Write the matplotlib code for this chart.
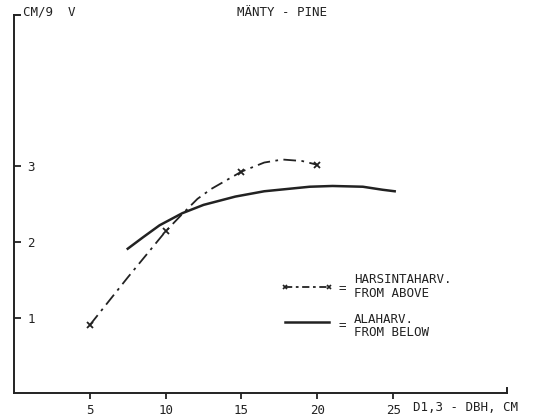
import matplotlib
matplotlib.use("Agg")
import matplotlib.pyplot as plt

# harsintaharv. / from above (dash-dot curve) and its measured points
aboveX = [5, 7.5, 10, 11.1, 12.1, 13, 15, 16.5, 17.7, 19, 20]
aboveY = [0.9, 1.53, 2.14, 2.37, 2.57, 2.7, 2.93, 3.05, 3.09, 3.07, 3.02]
aboveMarkX = [5, 10, 15, 20]
aboveMarkY = [0.9, 2.14, 2.93, 3.02]

# alaharv. / from below (solid curve)
belowX = [7.5, 8.5, 9.6, 11.1, 12.5, 14.6, 16.5, 19.5, 21, 23, 24.3, 25.1]
belowY = [1.91, 2.06, 2.22, 2.38, 2.49, 2.6, 2.67, 2.73, 2.74, 2.73, 2.69, 2.67]

xTicks = [5, 10, 15, 20, 25]
yTicks = [1, 2, 3]

ink = "#222222"
fs = 9
plt.rcParams["font.family"] = "DejaVu Sans Mono"

fig = plt.figure(figsize=(5.37, 4.2), dpi=100)
ax = fig.add_axes([0.026, 0.064, 0.918, 0.9])
ax.set_xlim(0, 32.5)
ax.set_ylim(0, 5)

ax.plot(aboveX, aboveY, color=ink, lw=1.3, linestyle=(0, (7, 3, 1.5, 3)))
ax.plot(aboveMarkX, aboveMarkY, linestyle="none", marker="x", ms=4, mew=1.3, color=ink)
ax.plot(belowX, belowY, color=ink, lw=1.8)

for s in ["top", "right"]:
    ax.spines[s].set_visible(False)
for s in ["left", "bottom"]:
    ax.spines[s].set_color(ink)
    ax.spines[s].set_linewidth(1.4)

ax.set_xticks(xTicks)
ax.set_yticks(yTicks)
ax.tick_params(axis="x", direction="out", length=4, width=1.3, color=ink,
               labelsize=fs, labelcolor=ink, pad=4)
ax.tick_params(axis="y", direction="in", length=5, width=1.3, color=ink,
               labelsize=fs, labelcolor=ink, pad=-9.5)
for lab in ax.get_yticklabels():
    lab.set_horizontalalignment("left")

# small end marks on the axes
ax.plot([0, 0.4], [5, 5], color=ink, lw=1.4, clip_on=False)
ax.plot([32.5, 32.5], [0, 0.07], color=ink, lw=1.4, clip_on=False)

ax.text(0.6, 5.04, "CM/9  V", fontsize=fs, color=ink, va="center", ha="left")
ax.text(17.7, 5.04, "MÄNTY - PINE", fontsize=fs, color=ink, va="center", ha="center")
ax.text(26.3, -0.185, "D1,3 - DBH, CM", fontsize=fs, color=ink, va="center", ha="left")

# hand-drawn legend
ax.plot([17.9, 20.8], [1.40, 1.40], color=ink, lw=1.3, linestyle=(0, (4, 2, 1.5, 2)))
ax.plot([17.9, 20.8], [1.40, 1.40], linestyle="none", marker="x", ms=3.5, mew=1.2, color=ink)
ax.text(21.4, 1.38, "=", fontsize=fs, color=ink, va="center", ha="left")
ax.text(22.4, 1.41, "HARSINTAHARV.\nFROM ABOVE", fontsize=fs, color=ink,
        va="center", ha="left", linespacing=1.05)

ax.plot([17.9, 20.8], [0.94, 0.94], color=ink, lw=1.8)
ax.text(21.4, 0.89, "=", fontsize=fs, color=ink, va="center", ha="left")
ax.text(22.4, 0.89, "ALAHARV.\nFROM BELOW", fontsize=fs, color=ink,
        va="center", ha="left", linespacing=1.05)

fig.savefig("out.png", dpi=100)
